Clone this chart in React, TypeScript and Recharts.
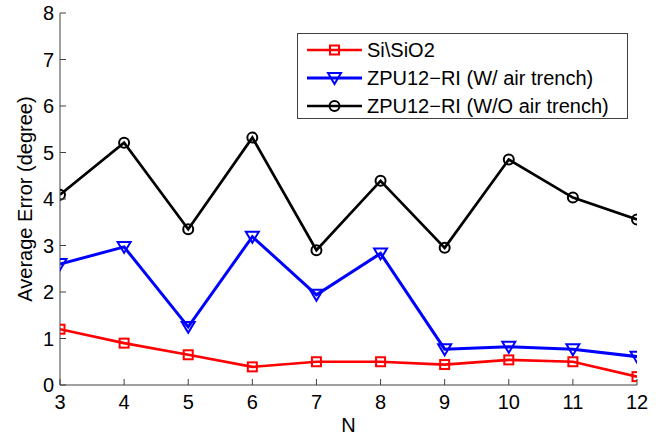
import React from 'react';
import { LineChart, Line, XAxis, YAxis, Legend, Label } from 'recharts';

const N_VALUES = [3, 4, 5, 6, 7, 8, 9, 10, 11, 12];
const SI_SIO2 = [1.2, 0.9, 0.65, 0.39, 0.5, 0.5, 0.44, 0.54, 0.5, 0.18];
const ZPU_W_TRENCH = [2.6, 2.97, 1.25, 3.19, 1.94, 2.83, 0.77, 0.82, 0.77, 0.61];
const ZPU_WO_TRENCH = [4.09, 5.21, 3.35, 5.32, 2.9, 4.39, 2.95, 4.85, 4.03, 3.56];
const X_TICKS = [3, 4, 5, 6, 7, 8, 9, 10, 11, 12];
const Y_TICKS = [0, 1, 2, 3, 4, 5, 6, 7, 8];
const SERIES_NAMES = ['Si\\SiO2', 'ZPU12\u2212RI (W/ air trench)', 'ZPU12\u2212RI (W/O air trench)'];

const data = N_VALUES.map((n, i) => ({
  n,
  si: SI_SIO2[i],
  w: ZPU_W_TRENCH[i],
  wo: ZPU_WO_TRENCH[i],
}));

const FONT = '"Liberation Sans", Arial, Helvetica, sans-serif';
const AXIS = '#404040';
const RED = '#ff0000';
const BLUE = '#0000ff';
const BLACK = '#000000';

const Square = ({ cx, cy }: any) => (
  <rect x={cx - 4.5} y={cy - 4.5} width={9} height={9} fill="none" stroke={RED} strokeWidth={2} />
);
const TriDown = ({ cx, cy }: any) => (
  <path d={`M${cx - 6.5},${cy - 5} L${cx + 6.5},${cy - 5} L${cx},${cy + 6} Z`} fill="none" stroke={BLUE} strokeWidth={2} strokeLinejoin="miter" />
);
const Circ = ({ cx, cy }: any) => (
  <circle cx={cx} cy={cy} r={5} fill="none" stroke={BLACK} strokeWidth={2} />
);

const X_MARGIN = 24;
const BottomTick = (props: any) => {
  const { x, y, payload } = props;
  return (
    <g>
      <line x1={x} y1={y - X_MARGIN} x2={x} y2={y - X_MARGIN - 6} stroke={AXIS} strokeWidth={1} />
      <text x={x} y={y} textAnchor="middle" fontSize={20} fontFamily={FONT} fill="#000">
        {payload.value}
      </text>
    </g>
  );
};
const Y_MARGIN = 6;
const LeftTick = (props: any) => {
  const { x, y, payload } = props;
  return (
    <g>
      <line x1={x + Y_MARGIN} y1={y} x2={x + Y_MARGIN + 6} y2={y} stroke={AXIS} strokeWidth={1} />
      <text x={x} y={y + 7} textAnchor="end" fontSize={20} fontFamily={FONT} fill="#000">
        {payload.value}
      </text>
    </g>
  );
};
const TopTick = (props: any) => {
  const { x, y } = props;
  return <line x1={x} y1={y} x2={x} y2={y + 6} stroke={AXIS} strokeWidth={1} />;
};
const RightTick = (props: any) => {
  const { x, y } = props;
  return <line x1={x} y1={y} x2={x - 6} y2={y} stroke={AXIS} strokeWidth={1} />;
};

const LegendBox = () => {
  const rows = [
    { y: 17, color: RED, M: Square, w: 2.7 },
    { y: 45, color: BLUE, M: TriDown, w: 3 },
    { y: 73, color: BLACK, M: Circ, w: 2.7 },
  ];
  return (
    <svg width={332} height={87} style={{ display: 'block' }}>
      <rect x={0.5} y={0.5} width={330} height={85} fill="#fff" stroke={AXIS} strokeWidth={1} />
      {rows.map((r, i) => (
        <g key={i}>
          <line x1={10} y1={r.y} x2={65} y2={r.y} stroke={r.color} strokeWidth={r.w} />
          <r.M cx={37.5} cy={r.y} />
          <text x={70} y={r.y + 7} fontSize={20} fontFamily={FONT} fill="#000">
            {SERIES_NAMES[i]}
          </text>
        </g>
      ))}
    </svg>
  );
};

export default function App() {
  return (
    <div style={{ position: 'absolute', left: 0, top: 0, background: '#fff' }}>
      <LineChart width={671} height={435} data={data} margin={{ top: 13, right: 34, bottom: 0, left: 0 }}>
        <XAxis
          dataKey="n"
          type="number"
          domain={[3, 12]}
          ticks={X_TICKS}
          allowDataOverflow
          height={50}
          tickSize={0}
          tickMargin={X_MARGIN}
          tick={<BottomTick />}
          axisLine={{ stroke: AXIS, strokeWidth: 1 }}
          tickLine={false}
          interval={0}
        >
          <Label value="N" position="insideBottom" offset={3} fontSize={20} fontFamily={FONT} fill="#000" />
        </XAxis>
        <XAxis
          xAxisId="top"
          orientation="top"
          dataKey="n"
          type="number"
          domain={[3, 12]}
          ticks={X_TICKS}
          allowDataOverflow
          height={0}
          tickSize={0}
          tickMargin={0}
          tick={<TopTick />}
          axisLine={{ stroke: AXIS, strokeWidth: 1 }}
          tickLine={false}
          interval={0}
        />
        <YAxis
          type="number"
          domain={[0, 8]}
          ticks={Y_TICKS}
          allowDataOverflow
          width={60}
          tickSize={0}
          tickMargin={Y_MARGIN}
          tick={<LeftTick />}
          axisLine={{ stroke: AXIS, strokeWidth: 1 }}
          tickLine={false}
          interval={0}
        >
          <Label
            value="Average Error (degree)"
            angle={-90}
            position="center"
            dx={-5}
            fontSize={20}
            fontFamily={FONT}
            fill="#000"
          />
        </YAxis>
        <YAxis
          yAxisId="right"
          orientation="right"
          type="number"
          domain={[0, 8]}
          ticks={Y_TICKS}
          allowDataOverflow
          width={0}
          tickSize={0}
          tickMargin={0}
          tick={<RightTick />}
          axisLine={{ stroke: AXIS, strokeWidth: 1 }}
          tickLine={false}
          interval={0}
        />
        <Legend
          layout="vertical"
          align="center"
          verticalAlign="middle"
          content={() => <LegendBox />}
          wrapperStyle={{ left: 297, top: 33, width: 332, height: 87, margin: 0, padding: 0 }}
        />
        <Line
          dataKey="si"
          name={SERIES_NAMES[0]}
          stroke={RED}
          strokeWidth={2.7}
          isAnimationActive={false}
          activeDot={false}
          dot={(p: any) => <Square key={`s${p.index}`} cx={p.cx} cy={p.cy} />}
        />
        <Line
          dataKey="w"
          name={SERIES_NAMES[1]}
          stroke={BLUE}
          strokeWidth={3}
          isAnimationActive={false}
          activeDot={false}
          dot={(p: any) => <TriDown key={`t${p.index}`} cx={p.cx} cy={p.cy} />}
        />
        <Line
          dataKey="wo"
          name={SERIES_NAMES[2]}
          stroke={BLACK}
          strokeWidth={2.7}
          isAnimationActive={false}
          activeDot={false}
          dot={(p: any) => <Circ key={`c${p.index}`} cx={p.cx} cy={p.cy} />}
        />
      </LineChart>
    </div>
  );
}
